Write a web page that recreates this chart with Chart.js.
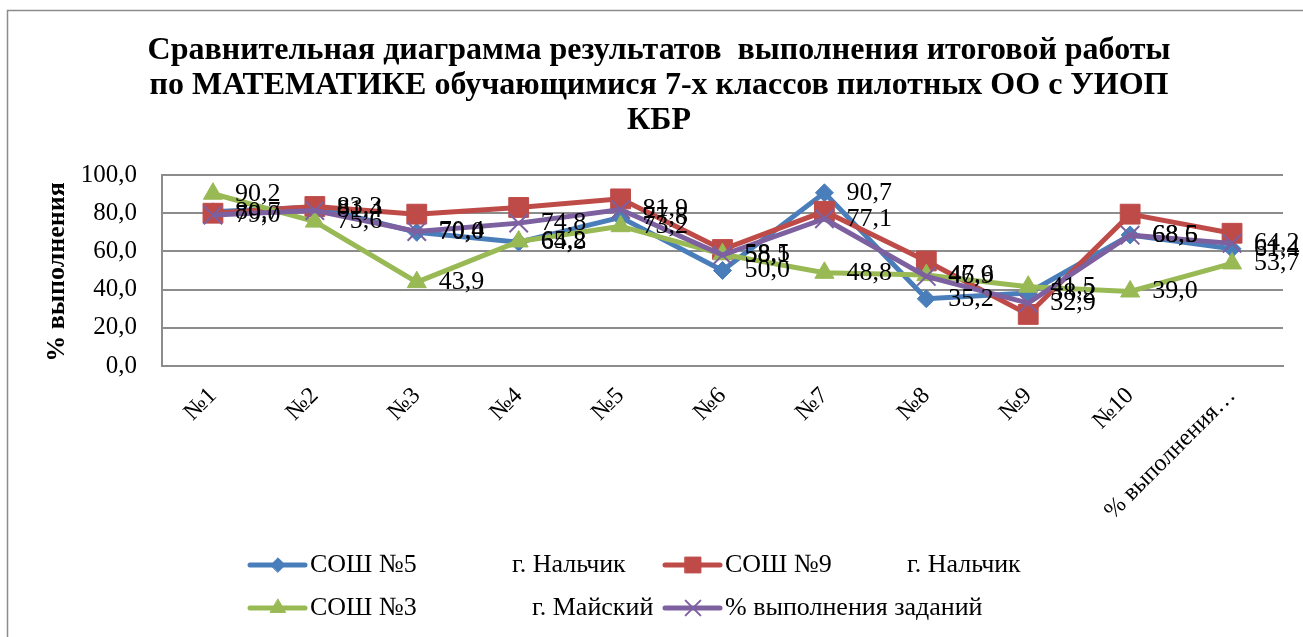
<!DOCTYPE html>
<html>
<head>
<meta charset="utf-8">
<script src="https://cdn.jsdelivr.net/npm/chart.js@4/dist/chart.umd.min.js"></script>
<style>
  html, body { margin: 0; padding: 0; background: #fff; }
  #wrap { width: 1303px; height: 637px; }
</style>
</head>
<body>
<div id="wrap"><canvas id="chart" width="1303" height="637"></canvas></div>
<script>
// data
const categories = ["№1", "№2", "№3", "№4", "№5", "№6", "№7", "№8", "№9", "№10", "% выполнения…"];
const sosh5 = [80.7, 83.3, 70.0, 64.8, 77.8, 50.0, 90.7, 35.2, 38.2, 68.6, 61.4];
const sosh9 = [80.0, 83.5, 79.5, 83.0, 87.5, 61.0, 81.0, 55.0, 27.0, 79.5, 69.5];
const sosh3 = [90.2, 75.6, 43.9, 65.2, 73.2, 58.5, 48.8, 47.6, 41.5, 39.0, 53.7];
const average = [79.0, 81.4, 70.4, 74.8, 81.9, 58.1, 77.1, 46.9, 32.9, 68.5, 64.2];
const yTicks = [0, 20, 40, 60, 80, 100];

const titleLines = [
  "Сравнительная диаграмма результатов  выполнения итоговой работы",
  "по МАТЕМАТИКЕ обучающимися 7-х классов пилотных ОО с УИОП",
  "КБР"
];
const seriesNames = ["СОШ №5", "СОШ №9", "СОШ №3", "% выполнения заданий"];
const seriesPlaces = ["г. Нальчик", "г. Нальчик", "г. Майский", ""];

const SERIF = "'Liberation Serif', 'Times New Roman', serif";
const fmt = (v) => v.toFixed(1).replace(".", ",");

const datasets = [
  { label: seriesNames[0], data: sosh5, borderColor: "#4A7EBB", backgroundColor: "#4A7EBB",
    pointStyle: "rectRot", pointRadius: 9, order: 3, showLabels: true },
  { label: seriesNames[1], data: sosh9, borderColor: "#BE4B48", backgroundColor: "#BE4B48",
    pointStyle: "rect", pointRadius: 14, order: 2, showLabels: false },
  { label: seriesNames[2], data: sosh3, borderColor: "#98B954", backgroundColor: "#98B954",
    pointStyle: "triangle", pointRadius: 11, order: 1, showLabels: true },
  { label: seriesNames[3], data: average, borderColor: "#7D60A0", backgroundColor: "#7D60A0",
    pointStyle: "crossRot", pointRadius: 13, pointBorderWidth: 2, order: 0, showLabels: true }
].map((d) => Object.assign({ borderWidth: 5, pointBorderWidth: d.pointBorderWidth || 1,
  pointHoverRadius: d.pointRadius, tension: 0 }, d));

// value labels to the right of the points
const valueLabels = {
  id: "valueLabels",
  afterDatasetsDraw(chart) {
    const ctx = chart.ctx;
    ctx.save();
    ctx.font = "26px " + SERIF;
    ctx.fillStyle = "#000";
    ctx.textAlign = "left";
    ctx.textBaseline = "middle";
    chart.data.datasets.forEach((ds, i) => {
      if (!ds.showLabels) return;
      chart.getDatasetMeta(i).data.forEach((pt, j) => {
        ctx.fillText(fmt(ds.data[j]), pt.x + 22, pt.y);
      });
    });
    ctx.restore();
  }
};

// title, axis title, frame and legend
const decorations = {
  id: "decorations",
  afterDraw(chart) {
    const ctx = chart.ctx;
    ctx.save();
    ctx.strokeStyle = "#8c8c8c";
    ctx.lineWidth = 1.5;
    ctx.strokeRect(7.5, 10.5, 1400, 700);

    ctx.fillStyle = "#000";
    ctx.font = "bold 32px " + SERIF;
    ctx.textAlign = "center";
    ctx.textBaseline = "middle";
    titleLines.forEach((t, i) => ctx.fillText(t, 659, 51 + i * 35));

    ctx.save();
    ctx.translate(57, 272);
    ctx.rotate(-Math.PI / 2);
    ctx.font = "bold 26px " + SERIF;
    ctx.fillText("% выполнения", 0, 0);
    ctx.restore();

    const slots = [
      { x: 250, y: 565, place: 512 },
      { x: 665, y: 565, place: 907 },
      { x: 250, y: 608, place: 532 },
      { x: 665, y: 608, place: 0 }
    ];
    ctx.font = "26px " + SERIF;
    ctx.textAlign = "left";
    chart.data.datasets.forEach((ds, i) => {
      const s = slots[i];
      ctx.strokeStyle = ds.borderColor;
      ctx.lineWidth = 5;
      ctx.lineCap = "round";
      ctx.beginPath();
      ctx.moveTo(s.x, s.y);
      ctx.lineTo(s.x + 55, s.y);
      ctx.stroke();
      ctx.fillStyle = ds.backgroundColor;
      ctx.lineWidth = ds.pointBorderWidth;
      Chart.helpers.drawPoint(ctx, { pointStyle: ds.pointStyle, radius: ds.pointRadius * 0.8,
        rotation: 0, borderWidth: ds.pointBorderWidth }, s.x + 28, s.y);
      ctx.fillStyle = "#000";
      ctx.fillText(seriesNames[i], s.x + 60, s.y);
      if (seriesPlaces[i]) ctx.fillText(seriesPlaces[i], s.place, s.y);
    });
    ctx.restore();
  }
};

new Chart(document.getElementById("chart"), {
  type: "line",
  data: { labels: categories, datasets: datasets },
  options: {
    responsive: false,
    animation: false,
    layout: { padding: { left: 0, right: 20, top: 175, bottom: 0 } },
    plugins: { legend: { display: false }, tooltip: { enabled: false }, title: { display: false } },
    scales: {
      x: {
        offset: true,
        grid: { display: false, drawTicks: false },
        border: { display: true, color: "#8c8c8c", width: 2 },
        ticks: { color: "#000", font: { family: SERIF, size: 24 }, minRotation: 45, maxRotation: 45,
          padding: 16, autoSkip: false },
        afterFit: (scale) => { scale.height = 271; }
      },
      y: {
        min: 0,
        max: 100,
        afterBuildTicks: (scale) => { scale.ticks = yTicks.map((v) => ({ value: v })); },
        grid: { color: "#8c8c8c", lineWidth: 2, drawTicks: false },
        border: { display: true, color: "#8c8c8c", width: 2 },
        ticks: { color: "#000", font: { family: SERIF, size: 25 }, padding: 25,
          callback: (v) => fmt(v) },
        afterFit: (scale) => { scale.width = 162; }
      }
    }
  },
  plugins: [valueLabels, decorations]
});
</script>
</body>
</html>
